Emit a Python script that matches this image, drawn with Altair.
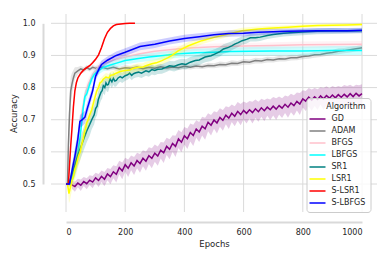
import altair as alt
import pandas as pd

ALGOS = ["GD", "ADAM", "BFGS", "LBFGS", "SR1", "LSR1", "S-LSR1", "S-LBFGS"]
COLORS = ["#800080", "#808080", "#ffc0cb", "#00ffff", "#008080", "#ffff00", "#ff0000", "#0000ff"]
X_TICKS = [0, 200, 400, 600, 800, 1000]
Y_TICKS = [0.5, 0.6, 0.7, 0.8, 0.9, 1.0]

GD_E = list(range(20, 1001, 10))
GD_V = [0.497, 0.492, 0.503, 0.496, 0.508, 0.501, 0.512, 0.506, 0.519, 0.511,
        0.524, 0.515, 0.531, 0.523, 0.538, 0.530, 0.551, 0.541, 0.560, 0.549,
        0.566, 0.556, 0.573, 0.564, 0.580, 0.571, 0.588, 0.580, 0.596, 0.587,
        0.605, 0.597, 0.617, 0.608, 0.626, 0.617, 0.640, 0.630, 0.650, 0.641,
        0.660, 0.651, 0.671, 0.662, 0.680, 0.672, 0.692, 0.683, 0.699, 0.690,
        0.707, 0.698, 0.714, 0.705, 0.720, 0.711, 0.726, 0.716, 0.729, 0.720,
        0.731, 0.722, 0.734, 0.725, 0.737, 0.728, 0.739, 0.731, 0.742, 0.733,
        0.744, 0.736, 0.748, 0.739, 0.752, 0.744, 0.757, 0.749, 0.765, 0.758,
        0.770, 0.761, 0.771, 0.763, 0.774, 0.765, 0.775, 0.767, 0.777, 0.768,
        0.778, 0.770, 0.779, 0.771, 0.781, 0.772, 0.782, 0.774, 0.781]
GD_HW = [0.012, 0.016, 0.013, 0.018, 0.014, 0.017, 0.015, 0.019, 0.016, 0.020,
         0.018, 0.022, 0.019, 0.024, 0.020, 0.025, 0.021, 0.026, 0.022, 0.027,
         0.023, 0.028, 0.024, 0.029, 0.025, 0.030, 0.026, 0.031, 0.027, 0.030,
         0.026, 0.032, 0.027, 0.031, 0.026, 0.033, 0.028, 0.031, 0.027, 0.032,
         0.028, 0.033, 0.027, 0.031, 0.029, 0.034, 0.028, 0.032, 0.027, 0.033,
         0.029, 0.032, 0.028, 0.034, 0.027, 0.031, 0.029, 0.033, 0.028, 0.032,
         0.027, 0.034, 0.029, 0.031, 0.028, 0.033, 0.027, 0.032, 0.029, 0.034,
         0.028, 0.031, 0.027, 0.033, 0.029, 0.032, 0.028, 0.034, 0.027, 0.031,
         0.029, 0.033, 0.028, 0.032, 0.027, 0.034, 0.029, 0.031, 0.028, 0.033,
         0.027, 0.032, 0.029, 0.034, 0.028, 0.031, 0.027, 0.033, 0.029]

ADAM_E = [0, 5, 8, 12, 16, 20, 25, 30, 40, 50, 60, 70, 80, 90] + list(range(100, 1001, 20))
ADAM_V = [0.50, 0.50, 0.62, 0.72, 0.79, 0.81, 0.83, 0.845, 0.852, 0.858, 0.855, 0.862, 0.857, 0.863,
          0.860, 0.864, 0.859, 0.863, 0.858, 0.862, 0.860, 0.864, 0.859, 0.863,
          0.860, 0.865, 0.861, 0.864, 0.862, 0.866, 0.863, 0.867, 0.865, 0.869,
          0.868, 0.872, 0.871, 0.876, 0.875, 0.880, 0.879, 0.884, 0.883, 0.887,
          0.886, 0.890, 0.889, 0.893, 0.893, 0.897, 0.898, 0.902, 0.903, 0.907,
          0.909, 0.913, 0.915, 0.918, 0.921, 0.924]
ADAM_HW = [0.0, 0.01, 0.06, 0.06, 0.045, 0.035, 0.025, 0.018, 0.012, 0.010, 0.008, 0.008, 0.007, 0.007,
           0.007, 0.008, 0.007, 0.008, 0.007, 0.008, 0.007, 0.008, 0.007, 0.008,
           0.007, 0.008, 0.007, 0.008, 0.007, 0.008, 0.007, 0.008, 0.007, 0.008,
           0.008, 0.009, 0.008, 0.009, 0.008, 0.009, 0.008, 0.009, 0.008, 0.009,
           0.008, 0.009, 0.008, 0.009, 0.008, 0.009, 0.008, 0.009, 0.008, 0.009,
           0.008, 0.009, 0.008, 0.009, 0.008, 0.009]

BFGS_E = [0, 15, 25, 35, 45, 55, 65, 75, 90, 110, 130, 160, 200, 250, 300, 350, 400, 450, 500, 600, 700, 800, 900, 1000]
BFGS_V = [0.5, 0.5, 0.54, 0.6, 0.67, 0.73, 0.78, 0.81, 0.84, 0.865, 0.875, 0.885, 0.895, 0.905, 0.913,
          0.918, 0.922, 0.925, 0.927, 0.929, 0.931, 0.933, 0.934, 0.935]
BFGS_HW = [0, 0.005, 0.02, 0.025, 0.025, 0.022, 0.02, 0.018, 0.015, 0.013, 0.012, 0.012, 0.011, 0.011,
           0.011, 0.01, 0.01, 0.01, 0.01, 0.01, 0.01, 0.01, 0.01, 0.01]

LBFGS_E = [0, 15, 25, 35, 42, 48, 53, 58, 64, 70, 80, 87, 95, 104, 115, 126, 140, 150, 171, 200, 239, 280,
           329, 380, 442, 500, 555, 623, 700, 800, 900, 1000]
LBFGS_V = [0.5, 0.5, 0.53, 0.57, 0.607, 0.65, 0.69, 0.735, 0.772, 0.78,
           0.81, 0.827, 0.84, 0.848, 0.856, 0.863, 0.867, 0.87, 0.876, 0.884,
           0.89, 0.895, 0.90, 0.905, 0.908, 0.91, 0.912, 0.913, 0.914, 0.914,
           0.915, 0.915]
LBFGS_HW = [0, 0.005, 0.02, 0.025, 0.025, 0.025, 0.025, 0.022, 0.02, 0.018,
            0.016, 0.015, 0.014, 0.013, 0.012, 0.012, 0.012, 0.012, 0.012, 0.012,
            0.012, 0.012, 0.012, 0.012, 0.013, 0.013, 0.013, 0.013, 0.014, 0.014,
            0.014, 0.014]

SR1_E = [0, 10, 20, 30, 40, 50, 59, 70, 80, 87,
         95, 100, 105, 109, 114, 118, 122, 126, 131, 135,
         139, 143, 149, 155, 160, 165, 170, 176, 183, 190,
         200, 208, 215, 222, 228, 236, 245, 255, 270, 280,
         290, 300, 310, 324, 335, 350, 365, 380, 392, 405,
         420, 437, 450, 470, 490, 504, 520, 532, 549, 560,
         570, 582, 595, 610, 623, 640, 656, 680, 700, 735,
         770, 800, 848, 900, 950, 1000]
SR1_V = [0.5, 0.5, 0.53, 0.56, 0.59, 0.615, 0.638, 0.665, 0.685, 0.70,
         0.715, 0.735, 0.742, 0.762, 0.775, 0.785, 0.79, 0.806, 0.80, 0.815,
         0.808, 0.81, 0.827, 0.818, 0.829, 0.82, 0.822, 0.83, 0.834, 0.83,
         0.837, 0.84, 0.845, 0.838, 0.843, 0.846, 0.848, 0.845, 0.852, 0.849,
         0.856, 0.853, 0.857, 0.858, 0.862, 0.868, 0.866, 0.871, 0.874, 0.872,
         0.879, 0.884, 0.886, 0.895, 0.899, 0.905, 0.912, 0.92, 0.925, 0.93,
         0.935, 0.94, 0.946, 0.95, 0.955, 0.955, 0.957, 0.962, 0.965, 0.969,
         0.971, 0.973, 0.975, 0.976, 0.976, 0.977]
SR1_HW = [0, 0.01, 0.03, 0.035, 0.035, 0.035, 0.035, 0.035, 0.035, 0.03,
          0.03, 0.03, 0.028, 0.028, 0.026, 0.025, 0.025, 0.024, 0.024, 0.022,
          0.022, 0.022, 0.02, 0.02, 0.02, 0.018, 0.018, 0.018, 0.016, 0.016,
          0.016, 0.016, 0.015, 0.015, 0.015, 0.015, 0.015, 0.015, 0.015, 0.015,
          0.015, 0.015, 0.015, 0.015, 0.015, 0.015, 0.016, 0.016, 0.016, 0.016,
          0.016, 0.016, 0.016, 0.016, 0.016, 0.015, 0.015, 0.015, 0.015, 0.014,
          0.014, 0.014, 0.013, 0.013, 0.012, 0.012, 0.012, 0.011, 0.011, 0.01,
          0.01, 0.01, 0.009, 0.009, 0.008, 0.008]

LSR1_E = [0, 5, 10, 13, 20, 25, 30, 35, 42, 48,
          53, 58, 62, 66, 70, 75, 80, 87, 95, 104,
          110, 115, 120, 125, 135, 145, 150, 160, 166, 175,
          183, 200, 215, 228, 245, 260, 270, 290, 305, 324,
          345, 358, 380, 414, 459, 504, 549, 595, 650, 700,
          750, 800, 850, 900, 950, 1000]
LSR1_V = [0.5, 0.5, 0.47, 0.482, 0.51, 0.524, 0.545, 0.56, 0.586, 0.60,
          0.622, 0.64, 0.66, 0.672, 0.69, 0.70, 0.715, 0.731, 0.76, 0.79,
          0.80, 0.815, 0.818, 0.825, 0.833, 0.83, 0.838, 0.84, 0.843, 0.847,
          0.85, 0.853, 0.855, 0.86, 0.863, 0.864, 0.868, 0.874, 0.877, 0.884,
          0.893, 0.90, 0.915, 0.93, 0.946, 0.957, 0.967, 0.977, 0.982, 0.985,
          0.988, 0.991, 0.993, 0.994, 0.995, 0.996]
LSR1_HW = [0, 0.01, 0.03, 0.035, 0.03, 0.03, 0.03, 0.03, 0.03, 0.028,
           0.028, 0.026, 0.025, 0.025, 0.024, 0.022, 0.02, 0.02, 0.018, 0.016,
           0.015, 0.014, 0.013, 0.012, 0.012, 0.012, 0.012, 0.012, 0.012, 0.012,
           0.012, 0.012, 0.012, 0.012, 0.012, 0.012, 0.012, 0.012, 0.012, 0.012,
           0.012, 0.012, 0.012, 0.012, 0.011, 0.01, 0.01, 0.009, 0.008, 0.007,
           0.006, 0.006, 0.005, 0.005, 0.005, 0.005]

SLSR1_E = [0, 8, 12, 16, 20, 25, 30, 35, 40, 50, 60, 70, 80, 90, 100, 110, 120, 130, 140, 150,
           160, 170, 185, 200, 215, 233]
SLSR1_V = [0.5, 0.5, 0.56, 0.62, 0.67, 0.74, 0.79, 0.815, 0.83, 0.845, 0.855, 0.862, 0.868, 0.877,
           0.888, 0.902, 0.925, 0.952, 0.972, 0.984, 0.992, 0.996, 0.998, 0.999, 1.0, 1.0]
SLSR1_HW = [0, 0, 0.01, 0.01, 0.01, 0.008, 0.006, 0.005, 0.004, 0.004, 0.004, 0.004, 0.004, 0.004,
            0.004, 0.004, 0.004, 0.004, 0.003, 0.003, 0.002, 0.002, 0.001, 0.001, 0.001, 0.001]

SLBFGS_E = [0, 12, 20, 30, 40, 47, 55, 64, 72, 81, 90, 100, 110, 120, 140, 170, 200, 250, 300, 350,
            400, 450, 500, 550, 600, 650, 700, 750, 800, 850, 900, 950, 1000]
SLBFGS_V = [0.5, 0.5, 0.54, 0.586, 0.64, 0.695, 0.70, 0.708, 0.735, 0.762,
            0.79, 0.835, 0.855, 0.872, 0.885, 0.90, 0.91, 0.928, 0.935, 0.945,
            0.953, 0.958, 0.964, 0.968, 0.969, 0.972, 0.974, 0.975, 0.976, 0.977,
            0.977, 0.977, 0.978]
SLBFGS_HW = [0, 0.005, 0.02, 0.025, 0.025, 0.02, 0.02, 0.02, 0.02, 0.018,
             0.016, 0.014, 0.013, 0.012, 0.012, 0.012, 0.012, 0.012, 0.012, 0.011,
             0.011, 0.011, 0.01, 0.01, 0.01, 0.009, 0.009, 0.009, 0.008, 0.008,
             0.008, 0.008, 0.008]

SERIES = {
    "GD": (GD_E, GD_V, GD_HW),
    "ADAM": (ADAM_E, ADAM_V, ADAM_HW),
    "BFGS": (BFGS_E, BFGS_V, BFGS_HW),
    "LBFGS": (LBFGS_E, LBFGS_V, LBFGS_HW),
    "SR1": (SR1_E, SR1_V, SR1_HW),
    "LSR1": (LSR1_E, LSR1_V, LSR1_HW),
    "S-LSR1": (SLSR1_E, SLSR1_V, SLSR1_HW),
    "S-LBFGS": (SLBFGS_E, SLBFGS_V, SLBFGS_HW),
}

FONT = "DejaVu Sans"
TXT = "#262626"
GRID = "#dadada"

x_scale = alt.Scale(domain=[0, 1000], range=[15, 311], nice=False, zero=False)
x_axis = alt.Axis(values=X_TICKS, format="d", title="Epochs",
                  offset=10, ticks=False, labelPadding=6, titlePadding=3, grid=False,
                  domainColor="#d9d9d9", domainWidth=2,
                  labelFont=FONT, labelFontSize=8, labelColor=TXT,
                  titleFont=FONT, titleFontSize=8.5, titleFontWeight="normal", titleColor=TXT)
y_scale = alt.Scale(domain=[0.5, 1.0], range=[170, 9.3], nice=False, zero=False)
y_axis = alt.Axis(values=Y_TICKS, format=".1f", title="Accuracy",
                  offset=8, ticks=False, labelPadding=8, titlePadding=4, titleY=99, grid=False,
                  domainColor="#d9d9d9", domainWidth=2,
                  labelFont=FONT, labelFontSize=8, labelColor=TXT,
                  titleFont=FONT, titleFontSize=8.5, titleFontWeight="normal", titleColor=TXT)

legend = alt.Legend(title="Algorithm", orient="none", legendX=255.5, legendY=84,
                    fillColor="rgba(255,255,255,0.8)", strokeColor="#cccccc", cornerRadius=3,
                    padding=5, titleFontSize=8, titleFontWeight="normal", titleFont=FONT,
                    titleColor=TXT, titleAnchor="end", titlePadding=2,
                    labelFont=FONT, labelFontSize=8, labelColor=TXT, labelOffset=8,
                    symbolType="M-1.6,0H1.6", symbolSize=100, symbolStrokeWidth=1.5,
                    rowPadding=2)

vgrid = alt.Chart(pd.DataFrame({"epoch": X_TICKS})).mark_rule(
    color=GRID, strokeWidth=1).encode(x=alt.X("epoch:Q", scale=x_scale, axis=x_axis))
hgrid = alt.Chart(pd.DataFrame({"acc": Y_TICKS})).mark_rule(
    color=GRID, strokeWidth=1).encode(y=alt.Y("acc:Q", scale=y_scale, axis=y_axis))

layers = [vgrid, hgrid]
for name, color in zip(ALGOS, COLORS):
    e, v, hw = SERIES[name]
    df = pd.DataFrame({
        "algo": name,
        "epoch": e,
        "acc": v,
        "lo": [a - h for a, h in zip(v, hw)],
        "hi": [a + h for a, h in zip(v, hw)],
    })
    band = alt.Chart(df).mark_area(opacity=0.2, fill=color).encode(
        x=alt.X("epoch:Q", scale=x_scale, axis=x_axis),
        y=alt.Y("lo:Q", scale=y_scale, axis=y_axis),
        y2="hi:Q",
    )
    line = alt.Chart(df).mark_line(strokeWidth=1.5).encode(
        x=alt.X("epoch:Q", scale=x_scale, axis=x_axis),
        y=alt.Y("acc:Q", scale=y_scale, axis=y_axis),
        color=alt.Color("algo:N", scale=alt.Scale(domain=ALGOS, range=COLORS), legend=legend),
    )
    layers += [band, line]

chart = alt.layer(*layers).properties(
    width=326, height=198,
    autosize=alt.AutoSizeParams(type="none"),
    padding={"left": 43, "top": 6, "right": 5, "bottom": 40},
    background="white",
).configure_view(stroke=None)

chart.save("out.html", embed_options={"renderer": "svg", "actions": False})
